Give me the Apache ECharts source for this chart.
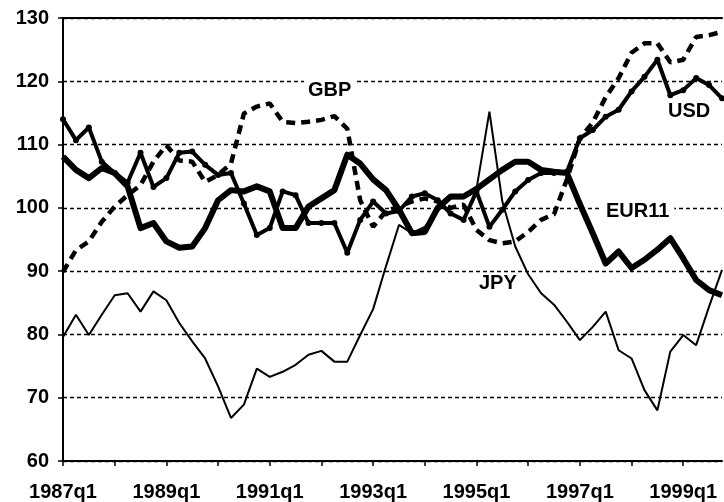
<!DOCTYPE html>
<html>
<head>
<meta charset="utf-8">
<script src="https://cdn.jsdelivr.net/npm/echarts@6/dist/echarts.min.js"></script>
<style>
html,body{margin:0;padding:0;background:#fff;}
#chart{width:724px;height:502px;}
</style>
</head>
<body>
<div id="chart"></div>
<script>
// Quarterly categories 1987q1 .. 1999q4
const quarters = [];
for (let y = 1987; y <= 1999; y++) { for (let q = 1; q <= 4; q++) quarters.push(y + 'q' + q); }

const yTicks = [60, 70, 80, 90, 100, 110, 120, 130];

const usd = [114.0,110.7,112.7,107.3,105.5,104.0,108.7,103.3,104.7,108.7,108.9,106.8,
  105.2,105.5,100.7,95.7,96.8,102.6,102.0,97.6,97.6,97.6,92.9,98.1,
  101.0,99.1,99.5,101.8,102.3,101.2,99.1,98.1,102.6,97.0,99.7,102.6,
  104.4,105.5,105.5,105.7,111.0,112.3,114.4,115.5,118.4,120.7,123.4,117.8,
  118.6,120.5,119.4,117.3];

const eur11 = [108.1,106.0,104.7,106.3,105.5,103.4,96.8,97.6,94.7,93.7,93.9,96.8,
  101.2,102.8,102.6,103.4,102.6,96.8,96.8,100.2,101.5,102.8,108.4,107.0,
  104.5,102.8,99.7,96.0,96.2,100.0,101.8,101.8,103.0,104.5,106.0,107.3,
  107.3,106.0,105.7,105.5,100.6,96.0,91.2,93.1,90.5,91.8,93.4,95.2,
  92.0,88.6,87.0,86.2];

const gbp = [89.9,93.3,94.7,97.8,100.2,102.0,103.6,107.3,109.9,107.5,107.3,104.1,
  105.2,107.0,114.9,116.0,116.5,113.6,113.4,113.6,113.9,114.5,112.5,101.2,
  97.0,99.5,100.2,101.0,101.5,101.0,100.0,100.5,96.5,94.9,94.4,94.7,
  96.2,98.1,99.0,104.5,111.0,113.5,117.5,120.5,124.5,126.0,126.0,123.0,
  123.4,127.0,127.3,127.8];

const jpy = [79.6,83.1,79.9,83.1,86.2,86.5,83.6,86.8,85.4,81.8,78.9,76.2,
  71.8,66.8,68.9,74.6,73.3,74.1,75.2,76.8,77.4,75.7,75.7,79.9,
  84.0,90.8,97.3,96.0,97.0,99.5,101.5,101.5,103.0,115.2,101.0,93.9,
  89.5,86.5,84.7,82.0,79.1,81.2,83.6,77.5,76.2,71.2,68.0,77.3,
  79.9,78.3,84.4,90.2];

const FONT = '"Liberation Sans", Arial, sans-serif';

const chart = echarts.init(document.getElementById('chart'), null, {renderer: 'canvas'});
chart.setOption({
  animation: false,
  backgroundColor: '#ffffff',
  title: {
    text: 'Effective exchange rates (1990 = 100, quarterly data)',
    left: 130, top: -23,
    textStyle: {fontFamily: FONT, fontSize: 18, fontWeight: 'bold', color: '#000'}
  },
  grid: {left: 63, right: 2, top: 18, bottom: 41, containLabel: false},
  xAxis: [{
    type: 'category',
    data: quarters,
    boundaryGap: false,
    axisLine: {show: true, lineStyle: {color: '#000', width: 2}},
    axisTick: {show: true, interval: 3, length: 5, inside: false, lineStyle: {color: '#000', width: 1.5}},
    axisLabel: {
      interval: 7, margin: 21, color: '#000',
      fontFamily: FONT, fontSize: 20, fontWeight: 'bold'
    },
    splitLine: {show: false}
  }, {
    type: 'category',
    data: quarters,
    position: 'top',
    boundaryGap: false,
    axisLine: {show: true, lineStyle: {color: '#000', width: 2}},
    axisTick: {show: false},
    axisLabel: {show: false},
    splitLine: {show: false}
  }],
  yAxis: {
    type: 'value',
    min: yTicks[0], max: yTicks[yTicks.length - 1], interval: 10,
    axisLine: {show: true, lineStyle: {color: '#000', width: 2}},
    axisTick: {show: true, length: 5, lineStyle: {color: '#000', width: 1.5}},
    axisLabel: {margin: 14, color: '#000', fontFamily: FONT, fontSize: 20, fontWeight: 'bold'},
    splitLine: {show: true, lineStyle: {color: '#000', width: 1.3, type: [4, 3]}}
  },
  series: [
    {
      name: 'JPY', type: 'line', data: jpy, showSymbol: false, symbol: 'none',
      lineStyle: {color: '#000', width: 2}, z: 2
    },
    {
      name: 'GBP', type: 'line', data: gbp, showSymbol: false, symbol: 'none',
      lineStyle: {color: '#000', width: 4.5, type: [9, 6], cap: 'butt'}, z: 3
    },
    {
      name: 'EUR11', type: 'line', data: eur11, showSymbol: false, symbol: 'none',
      lineStyle: {color: '#000', width: 6, join: 'round'}, z: 4
    },
    {
      name: 'USD', type: 'line', data: usd, symbol: 'circle', symbolSize: 6, showAllSymbol: true,
      itemStyle: {color: '#000'},
      lineStyle: {color: '#000', width: 4, join: 'round'}, z: 5
    }
  ],
  graphic: [
    {type: 'text', left: 304, top: 80, z: 10, style: {text: 'GBP', fontFamily: FONT, fontSize: 20, fontWeight: 'bold', fill: '#000', backgroundColor: '#fff', padding: [0, 4]}},
    {type: 'text', left: 668, top: 101, z: 10, style: {text: 'USD', fontFamily: FONT, fontSize: 20, fontWeight: 'bold', fill: '#000'}},
    {type: 'text', left: 601, top: 201, z: 10, style: {text: 'EUR11', fontFamily: FONT, fontSize: 20, fontWeight: 'bold', fill: '#000', backgroundColor: '#fff', padding: [0, 5]}},
    {type: 'text', left: 479, top: 273, z: 10, style: {text: 'JPY', fontFamily: FONT, fontSize: 20, fontWeight: 'bold', fill: '#000'}}
  ]
});
</script>
</body>
</html>
